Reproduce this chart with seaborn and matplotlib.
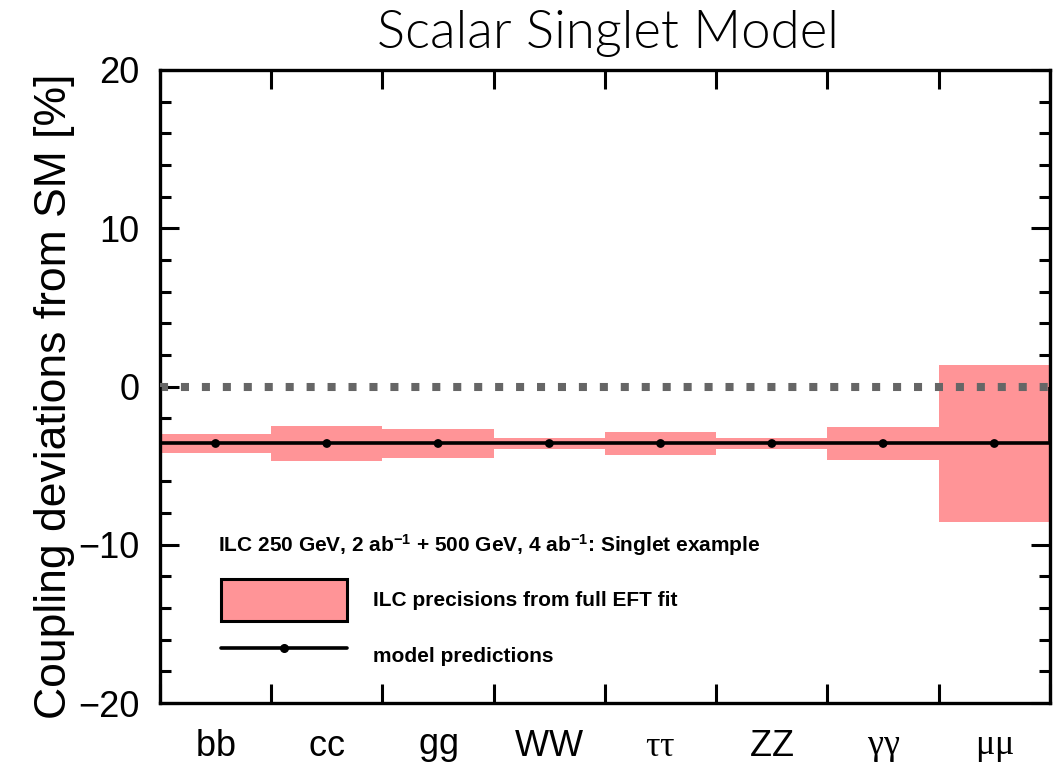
import numpy as np
import matplotlib
matplotlib.use("Agg")
import matplotlib.pyplot as plt
from matplotlib.patches import Patch
from matplotlib.lines import Line2D
import seaborn as sns

# Data
channels = [r"$\mathregular{bb}$", r"$\mathregular{cc}$", r"$\mathregular{gg}$", r"$\mathregular{WW}$",
            r"$\tau\tau$", r"$\mathregular{ZZ}$", r"$\gamma\gamma$", r"$\mu\mu$"]
model = np.array([-3.6, -3.6, -3.6, -3.6, -3.6, -3.6, -3.6, -3.6])
err = np.array([0.60, 1.13, 0.93, 0.37, 0.73, 0.37, 1.05, 4.99])
ytick_vals = [-20, -10, 0, 10, 20]
ytick_labels = ["\u221220", "\u221210", "0", "10", "20"]

band_color = "#ff9497"
header = r"ILC 250 GeV, 2 ab$^{\mathbf{-1}}$ + 500 GeV, 4 ab$^{\mathbf{-1}}$: Singlet example"
leg_labels = ["ILC precisions from full EFT fit", "model predictions"]

sns.set_theme(style="ticks")
plt.rcParams["font.family"] = ["Liberation Sans", "DejaVu Sans"]
plt.rcParams["mathtext.fontset"] = "custom"
plt.rcParams["mathtext.rm"] = "Liberation Sans"
plt.rcParams["mathtext.it"] = "Liberation Serif"
plt.rcParams["mathtext.bf"] = "Liberation Sans:bold"
for k in ["text.color", "axes.labelcolor", "xtick.color", "ytick.color"]:
    plt.rcParams[k] = "black"

fig = plt.figure(figsize=(10.58, 7.65), dpi=100)
ax = fig.add_axes([0.1512, 0.081, 0.8412, 0.8275])

x = np.arange(len(channels))
edges = np.arange(len(channels) + 1) - 0.5

# precision bands
ax.bar(x, 2 * err, bottom=model - err, width=1.0, color=band_color, linewidth=0, zorder=1)
# SM reference
ax.axhline(0, color="#666666", lw=5.8, ls=(0, (1, 1.6)), dash_capstyle="butt", zorder=3)
# model predictions
ax.stairs(model, edges, color="black", lw=2.6, zorder=4)
sns.scatterplot(x=x, y=model, color="black", s=40, edgecolor="none", zorder=5, ax=ax, legend=False)

ax.set_xlim(-0.5, 7.5)
ax.set_ylim(-20, 20)
ax.set_xticks(x)
ax.set_xticklabels(channels, fontsize=26)
ax.set_xticks(edges, minor=True)
ax.tick_params(axis="x", which="major", length=0, pad=19)
ax.tick_params(axis="x", which="minor", length=14, width=2.2, direction="in", top=True, bottom=True)
ax.set_yticks(ytick_vals)
ax.set_yticklabels(ytick_labels, fontsize=26)
ax.set_yticks(np.arange(-18, 20, 2), minor=True)
ax.tick_params(axis="y", which="major", length=14, width=2.2, direction="in", left=True, right=True, pad=15)
ax.tick_params(axis="y", which="minor", length=8, width=2.2, direction="in", left=True, right=True)
for s in ax.spines.values():
    s.set_linewidth(2.4)
    s.set_color("black")
ax.set_xlabel("")
ax.set_ylabel("Coupling deviations from SM [%]", fontsize=32)
ax.yaxis.set_label_coords(-0.095, 0.485)

fig.text(0.5747, 1 - 48 / 765, "Scalar Singlet Model", ha="center", va="baseline",
         fontsize=38, fontweight=300, family=["Lato", "DejaVu Sans"])

ax.text(0.065, 0.2496, header, transform=ax.transAxes, ha="left", va="center",
        fontsize=15, fontweight="bold")

handles = [Patch(facecolor=band_color, edgecolor="black", linewidth=2.2),
           Line2D([], [], color="black", lw=2.6, marker="o", markersize=5.5)]
ax.legend(handles, leg_labels, loc="upper left", bbox_to_anchor=(0.0685, 0.196),
          frameon=False, prop=dict(weight="bold", size=15),
          handlelength=6.05, handleheight=2.72, labelspacing=0.67, handletextpad=1.25,
          borderpad=0, borderaxespad=0, numpoints=1)

fig.savefig("out.png", dpi=100)
